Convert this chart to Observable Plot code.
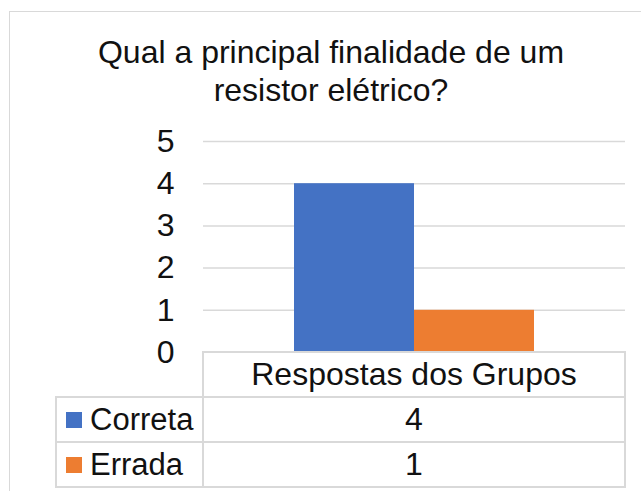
<!DOCTYPE html>
<html>
<head>
<meta charset="utf-8">
<script src="https://cdn.jsdelivr.net/npm/d3@7"></script>
<script src="https://cdn.jsdelivr.net/npm/@observablehq/plot@0.6"></script>
<style>
  html, body { margin: 0; padding: 0; background: #fff; }
  #wrap { position: relative; width: 641px; height: 491px; overflow: hidden; font-family: "Liberation Sans", Arial, sans-serif; color: #111; }
  #frame { position: absolute; left: 9px; top: 11px; width: 700px; height: 600px; border: 1.5px solid #d9d9d9; box-sizing: border-box; }
  #title { position: absolute; left: 31px; top: 33px; width: 600px; text-align: center; font-size: 32px; line-height: 38px; }
  #chart { position: absolute; left: 0; top: 0; }
  .line { position: absolute; background: #d9d9d9; }
  .cell { position: absolute; font-size: 32px; display: flex; align-items: center; }
  .leg { font-size: 31px; }
  .sw { display: inline-block; width: 16px; height: 16px; margin-right: 8px; }
</style>
</head>
<body>
<div id="wrap">
  <div id="frame"></div>
  <div id="title">Qual a principal finalidade de um<br>resistor elétrico?</div>
  <div id="chart"></div>
  <div id="table"></div>
</div>
<script>
const title = "Qual a principal finalidade de um resistor elétrico?";
const category = "Respostas dos Grupos";
const series = ["Correta", "Errada"];
const values = [4, 1];
const colors = ["#4472C4", "#ED7D31"];
const yTicks = [0, 1, 2, 3, 4, 5];

const data = series.map((s, i) => ({serie: s, valor: values[i]}));

const W = 641, H = 491;
const mL = 203, mR = 16, mT = 141, mB = 139;

const chart = Plot.plot({
  width: W,
  height: H,
  marginLeft: mL,
  marginRight: mR,
  marginTop: mT,
  marginBottom: mB,
  style: {fontFamily: "'Liberation Sans', Arial, sans-serif", fontSize: "32px", color: "#111", background: "transparent"},
  x: {domain: series, paddingInner: 0, paddingOuter: 0.744, axis: null},
  y: {domain: [0, 5], ticks: yTicks, axis: null},
  color: {domain: series, range: colors},
  marks: [
    Plot.ruleY(yTicks.filter(d => d > 0), {stroke: "#d9d9d9", strokeWidth: 1.5}),
    Plot.barY(data, {x: "serie", y: "valor", fill: "serie", inset: 0}),
    Plot.axisY({ticks: yTicks, tickSize: 0, tickPadding: 29, fontSize: 32, label: null, tickFormat: d => String(d), fill: "#111"})
  ]
});
document.getElementById("chart").appendChild(chart);

// Data table below the plot, aligned with the plot's x range
const x0 = mL, x1 = W - mR, left = 56;
const rowTop = H - mB; // 352
const rowH = 45;
const tbl = document.getElementById("table");
function line(x, y, w, h) {
  const d = document.createElement("div");
  d.className = "line";
  Object.assign(d.style, {left: x + "px", top: y + "px", width: w + "px", height: h + "px"});
  tbl.appendChild(d);
}
function cell(x, y, w, h, html, justify, cls) {
  const d = document.createElement("div");
  d.className = "cell" + (cls ? " " + cls : "");
  Object.assign(d.style, {left: x + "px", top: y + "px", width: w + "px", height: h + "px", justifyContent: justify});
  d.innerHTML = html;
  tbl.appendChild(d);
}
const lw = 2;
line(x0 - 1, rowTop - 1, x1 - x0 + 2, lw);
for (let r = 1; r <= series.length + 1; r++) line(left - 1, rowTop + r * rowH - 1, x1 - left + 2, lw);
line(x0 - 1, rowTop - 1, lw, rowH * (series.length + 1) + 2);
line(x1 - 1, rowTop - 1, lw, rowH * (series.length + 1) + 2);
line(left - 1, rowTop + rowH - 1, lw, rowH * series.length + 2);
cell(x0, rowTop, x1 - x0, rowH, category, "center");
series.forEach((s, i) => {
  const y = rowTop + (i + 1) * rowH;
  cell(left + 10, y, x0 - left - 10, rowH, `<span class="sw" style="background:${colors[i]}"></span>${s}`, "flex-start", "leg");
  cell(x0, y, x1 - x0, rowH, String(values[i]), "center");
});
</script>
</body>
</html>
